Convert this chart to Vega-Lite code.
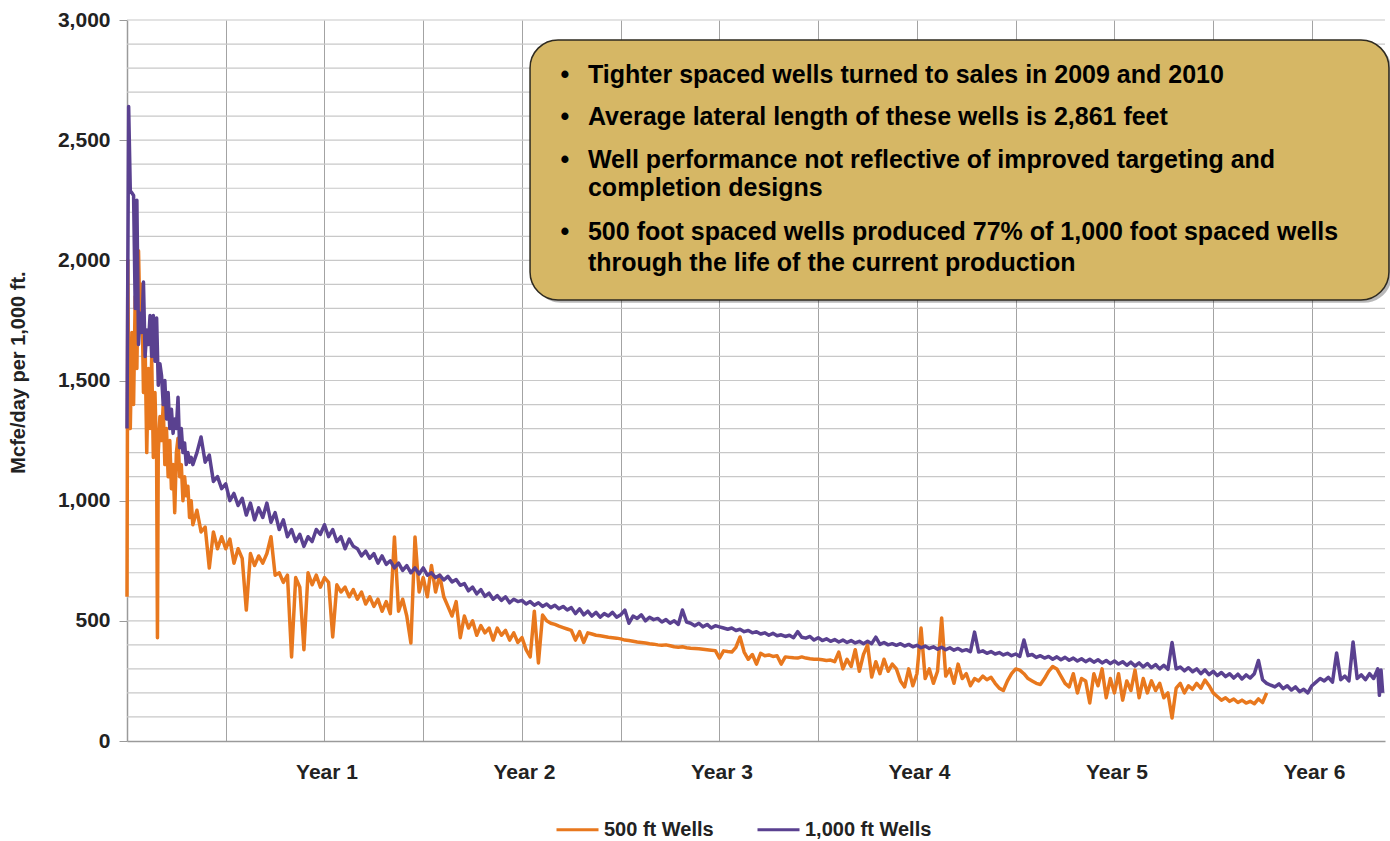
{
  "$schema": "https://vega.github.io/schema/vega-lite/v6.json",
  "width": 1258,
  "height": 721,
  "autosize": "none",
  "padding": {"left": 127, "top": 20, "right": 5, "bottom": 100},
  "background": "white",
  "config": {
    "font": "Liberation Sans",
    "view": {"stroke": null}
  },
  "datasets": {
    "hgrid": [{"g":100},{"g":200},{"g":300},{"g":400},{"g":500},{"g":600},{"g":700},{"g":800},{"g":900},{"g":1000},{"g":1100},{"g":1200},{"g":1300},{"g":1400},{"g":1500},{"g":1600},{"g":1700},{"g":1800},{"g":1900},{"g":2000},{"g":2100},{"g":2200},{"g":2300},{"g":2400},{"g":2500},{"g":2600},{"g":2700},{"g":2800},{"g":2900},{"g":3000}],
    "w500": [
      {"m":0.0,"v":600},{"m":0.05,"v":2000},{"m":0.1,"v":1500},{"m":0.2,"v":1300},{"m":0.3,"v":1700},{"m":0.4,"v":1400},{"m":0.5,"v":1850},{"m":0.6,"v":1550},{"m":0.7,"v":2040},{"m":0.8,"v":1700},{"m":0.9,"v":1900},{"m":1.0,"v":1450},{"m":1.1,"v":1650},{"m":1.2,"v":1200},{"m":1.3,"v":1550},{"m":1.4,"v":1300},{"m":1.5,"v":1600},{"m":1.6,"v":1180},{"m":1.7,"v":1450},{"m":1.8,"v":1170},{"m":1.85,"v":430},{"m":1.9,"v":1200},{"m":2.0,"v":1350},{"m":2.1,"v":1250},{"m":2.2,"v":1400},{"m":2.3,"v":1150},{"m":2.4,"v":1300},{"m":2.5,"v":1100},{"m":2.6,"v":1250},{"m":2.7,"v":1050},{"m":2.8,"v":1150},{"m":2.9,"v":950},{"m":3.0,"v":1200},{"m":3.1,"v":1260},{"m":3.2,"v":1100},{"m":3.3,"v":1150},{"m":3.4,"v":1000},{"m":3.5,"v":1100},{"m":3.6,"v":1020},{"m":3.7,"v":1060},{"m":3.8,"v":930},{"m":3.9,"v":1000},{"m":4.0,"v":900},
      {"m":4.25,"v":960},{"m":4.5,"v":870},{"m":4.75,"v":890},{"m":5.0,"v":720},{"m":5.25,"v":870},{"m":5.5,"v":800},{"m":5.75,"v":850},{"m":6.0,"v":800},{"m":6.25,"v":840},{"m":6.5,"v":740},{"m":6.75,"v":800},{"m":7.0,"v":760},{"m":7.25,"v":545},{"m":7.5,"v":780},{"m":7.75,"v":730},{"m":8.0,"v":770},{"m":8.25,"v":740},{"m":8.5,"v":780},{"m":8.75,"v":850},{"m":9.0,"v":690},{"m":9.25,"v":700},{"m":9.5,"v":660},{"m":9.75,"v":690},{"m":10.0,"v":350},{"m":10.25,"v":680},{"m":10.5,"v":640},{"m":10.75,"v":380},{"m":11.0,"v":700},{"m":11.25,"v":650},{"m":11.5,"v":690},{"m":11.75,"v":640},{"m":12.0,"v":680},{"m":12.25,"v":660},{"m":12.5,"v":433},{"m":12.75,"v":650},{"m":13.0,"v":620},{"m":13.25,"v":640},{"m":13.5,"v":600},{"m":13.75,"v":630},{"m":14.0,"v":590},{"m":14.25,"v":620},{"m":14.5,"v":570},{"m":14.75,"v":600},{"m":15.0,"v":560},{"m":15.25,"v":590},{"m":15.5,"v":540},{"m":15.75,"v":580},{"m":16.0,"v":530},{"m":16.25,"v":849},{"m":16.5,"v":540},{"m":16.75,"v":590},{"m":17.0,"v":520},{"m":17.25,"v":408},{"m":17.5,"v":849},{"m":17.75,"v":620},{"m":18.0,"v":680},{"m":18.25,"v":600},{"m":18.5,"v":730},{"m":18.75,"v":620},{"m":19.0,"v":690},{"m":19.25,"v":600},{"m":19.5,"v":560},{"m":19.75,"v":520},{"m":20.0,"v":580},{"m":20.25,"v":430},{"m":20.5,"v":520},{"m":20.75,"v":470},{"m":21.0,"v":500},{"m":21.25,"v":440},{"m":21.5,"v":480},{"m":21.75,"v":450},{"m":22.0,"v":470},{"m":22.25,"v":420},{"m":22.5,"v":470},{"m":22.75,"v":440},{"m":23.0,"v":460},{"m":23.25,"v":420},{"m":23.5,"v":450},{"m":23.75,"v":410},{"m":24.0,"v":430},{"m":24.25,"v":380},{"m":24.5,"v":350},{"m":24.75,"v":540},{"m":25.0,"v":325},{"m":25.25,"v":524},{"m":25.5,"v":500},{"m":25.75,"v":490},{"m":26.0,"v":485},{"m":26.25,"v":478},{"m":26.5,"v":472},{"m":26.75,"v":466},{"m":27.0,"v":460},{"m":27.25,"v":420},{"m":27.5,"v":455},{"m":27.75,"v":410},{"m":28.0,"v":450},{"m":28.25,"v":445},{"m":28.5,"v":440},{"m":28.75,"v":438},{"m":29.0,"v":435},{"m":29.25,"v":432},{"m":29.5,"v":430},{"m":29.75,"v":428},{"m":30.0,"v":425},{"m":30.25,"v":420},{"m":30.5,"v":418},{"m":30.75,"v":415},{"m":31.0,"v":412},{"m":31.25,"v":410},{"m":31.5,"v":408},{"m":31.75,"v":405},{"m":32.0,"v":403},{"m":32.25,"v":400},{"m":32.5,"v":398},{"m":32.75,"v":400},{"m":33.0,"v":396},{"m":33.25,"v":392},{"m":33.5,"v":390},{"m":33.75,"v":392},{"m":34.0,"v":388},{"m":34.25,"v":386},{"m":34.5,"v":385},{"m":34.75,"v":384},{"m":35.0,"v":382},{"m":35.25,"v":380},{"m":35.5,"v":378},{"m":35.75,"v":376},{"m":36.0,"v":345},{"m":36.25,"v":375},{"m":36.5,"v":372},{"m":36.75,"v":370},{"m":37.0,"v":390},{"m":37.25,"v":433},{"m":37.5,"v":370},{"m":37.75,"v":340},{"m":38.0,"v":360},{"m":38.25,"v":320},{"m":38.5,"v":365},{"m":38.75,"v":355},{"m":39.0,"v":358},{"m":39.25,"v":352},{"m":39.5,"v":355},{"m":39.75,"v":320},{"m":40.0,"v":350},{"m":40.25,"v":348},{"m":40.5,"v":346},{"m":40.75,"v":345},{"m":41.0,"v":350},{"m":41.25,"v":345},{"m":41.5,"v":342},{"m":41.75,"v":340},{"m":42.0,"v":340},{"m":42.25,"v":338},{"m":42.5,"v":335},{"m":42.75,"v":337},{"m":43.0,"v":330},{"m":43.25,"v":370},{"m":43.5,"v":300},{"m":43.75,"v":340},{"m":44.0,"v":310},{"m":44.25,"v":380},{"m":44.5,"v":290},{"m":44.75,"v":360},{"m":45.0,"v":400},{"m":45.25,"v":266},{"m":45.5,"v":330},{"m":45.75,"v":280},{"m":46.0,"v":340},{"m":46.25,"v":290},{"m":46.5,"v":320},{"m":46.75,"v":300},{"m":47.0,"v":250},{"m":47.25,"v":225},{"m":47.5,"v":300},{"m":47.75,"v":230},{"m":48.0,"v":280},{"m":48.25,"v":470},{"m":48.5,"v":260},{"m":48.75,"v":300},{"m":49.0,"v":240},{"m":49.25,"v":290},{"m":49.5,"v":512},{"m":49.75,"v":270},{"m":50.0,"v":300},{"m":50.25,"v":240},{"m":50.5,"v":320},{"m":50.75,"v":260},{"m":51.0,"v":280},{"m":51.25,"v":230},{"m":51.5,"v":260},{"m":51.75,"v":250},{"m":52.0,"v":270},{"m":52.25,"v":255},{"m":52.5,"v":265},{"m":52.75,"v":240},{"m":53.0,"v":220},{"m":53.25,"v":210},{"m":53.5,"v":250},{"m":53.75,"v":280},{"m":54.0,"v":300},{"m":54.25,"v":295},{"m":54.5,"v":280},{"m":54.75,"v":260},{"m":55.0,"v":250},{"m":55.25,"v":240},{"m":55.5,"v":235},{"m":55.75,"v":260},{"m":56.0,"v":290},{"m":56.25,"v":310},{"m":56.5,"v":300},{"m":56.75,"v":270},{"m":57.0,"v":240},{"m":57.25,"v":225},{"m":57.5,"v":280},{"m":57.75,"v":200},{"m":58.0,"v":260},{"m":58.25,"v":250},{"m":58.5,"v":158},{"m":58.75,"v":280},{"m":59.0,"v":230},{"m":59.25,"v":300},{"m":59.5,"v":180},{"m":59.75,"v":260},{"m":60.0,"v":200},{"m":60.25,"v":280},{"m":60.5,"v":170},{"m":60.75,"v":250},{"m":61.0,"v":210},{"m":61.25,"v":295},{"m":61.5,"v":180},{"m":61.75,"v":260},{"m":62.0,"v":200},{"m":62.25,"v":250},{"m":62.5,"v":210},{"m":62.75,"v":240},{"m":63.0,"v":180},{"m":63.25,"v":200},{"m":63.5,"v":96},{"m":63.75,"v":220},{"m":64.0,"v":240},{"m":64.25,"v":200},{"m":64.5,"v":230},{"m":64.75,"v":215},{"m":65.0,"v":240},{"m":65.25,"v":220},{"m":65.5,"v":254},{"m":65.75,"v":230},{"m":66.0,"v":200},{"m":66.25,"v":185},{"m":66.5,"v":170},{"m":66.75,"v":180},{"m":67.0,"v":165},{"m":67.25,"v":175},{"m":67.5,"v":160},{"m":67.75,"v":170},{"m":68.0,"v":158},{"m":68.25,"v":165},{"m":68.5,"v":155},{"m":68.75,"v":175},{"m":69.0,"v":160},{"m":69.25,"v":200}
    ],
    "w1000": [
      {"m":0.0,"v":1300},{"m":0.1,"v":2640},{"m":0.2,"v":2290},{"m":0.3,"v":2280},{"m":0.4,"v":2270},{"m":0.5,"v":1800},{"m":0.6,"v":2250},{"m":0.7,"v":1650},{"m":0.8,"v":1780},{"m":0.9,"v":1700},{"m":1.0,"v":1910},{"m":1.1,"v":1600},{"m":1.2,"v":1710},{"m":1.3,"v":1650},{"m":1.4,"v":1770},{"m":1.5,"v":1600},{"m":1.6,"v":1770},{"m":1.7,"v":1580},{"m":1.8,"v":1760},{"m":1.9,"v":1480},{"m":2.0,"v":1570},{"m":2.1,"v":1520},{"m":2.2,"v":1400},{"m":2.3,"v":1500},{"m":2.4,"v":1340},{"m":2.5,"v":1450},{"m":2.6,"v":1300},{"m":2.7,"v":1380},{"m":2.8,"v":1280},{"m":2.9,"v":1340},{"m":3.0,"v":1300},{"m":3.1,"v":1430},{"m":3.2,"v":1220},{"m":3.3,"v":1300},{"m":3.4,"v":1200},{"m":3.5,"v":1240},{"m":3.6,"v":1150},{"m":3.7,"v":1200},{"m":3.8,"v":1160},{"m":3.9,"v":1180},{"m":4.0,"v":1150},
      {"m":4.25,"v":1200},{"m":4.5,"v":1265},{"m":4.75,"v":1160},{"m":5.0,"v":1190},{"m":5.25,"v":1080},{"m":5.5,"v":1100},{"m":5.75,"v":1050},{"m":6.0,"v":1070},{"m":6.25,"v":1000},{"m":6.5,"v":1030},{"m":6.75,"v":980},{"m":7.0,"v":1010},{"m":7.25,"v":940},{"m":7.5,"v":990},{"m":7.75,"v":920},{"m":8.0,"v":970},{"m":8.25,"v":930},{"m":8.5,"v":990},{"m":8.75,"v":910},{"m":9.0,"v":950},{"m":9.25,"v":880},{"m":9.5,"v":920},{"m":9.75,"v":850},{"m":10.0,"v":880},{"m":10.25,"v":830},{"m":10.5,"v":860},{"m":10.75,"v":810},{"m":11.0,"v":850},{"m":11.25,"v":830},{"m":11.5,"v":880},{"m":11.75,"v":860},{"m":12.0,"v":900},{"m":12.25,"v":850},{"m":12.5,"v":880},{"m":12.75,"v":830},{"m":13.0,"v":850},{"m":13.25,"v":800},{"m":13.5,"v":840},{"m":13.75,"v":810},{"m":14.0,"v":800},{"m":14.25,"v":770},{"m":14.5,"v":790},{"m":14.75,"v":760},{"m":15.0,"v":780},{"m":15.25,"v":740},{"m":15.5,"v":770},{"m":15.75,"v":735},{"m":16.0,"v":750},{"m":16.25,"v":720},{"m":16.5,"v":740},{"m":16.75,"v":710},{"m":17.0,"v":730},{"m":17.25,"v":700},{"m":17.5,"v":720},{"m":17.75,"v":695},{"m":18.0,"v":720},{"m":18.25,"v":690},{"m":18.5,"v":700},{"m":18.75,"v":680},{"m":19.0,"v":690},{"m":19.25,"v":670},{"m":19.5,"v":685},{"m":19.75,"v":662},{"m":20.0,"v":672},{"m":20.25,"v":648},{"m":20.5,"v":655},{"m":20.75,"v":625},{"m":21.0,"v":640},{"m":21.25,"v":612},{"m":21.5,"v":630},{"m":21.75,"v":602},{"m":22.0,"v":615},{"m":22.25,"v":590},{"m":22.5,"v":605},{"m":22.75,"v":585},{"m":23.0,"v":600},{"m":23.25,"v":575},{"m":23.5,"v":590},{"m":23.75,"v":580},{"m":24.0,"v":585},{"m":24.25,"v":570},{"m":24.5,"v":580},{"m":24.75,"v":565},{"m":25.0,"v":575},{"m":25.25,"v":560},{"m":25.5,"v":570},{"m":25.75,"v":555},{"m":26.0,"v":565},{"m":26.25,"v":550},{"m":26.5,"v":560},{"m":26.75,"v":545},{"m":27.0,"v":555},{"m":27.25,"v":530},{"m":27.5,"v":550},{"m":27.75,"v":525},{"m":28.0,"v":540},{"m":28.25,"v":520},{"m":28.5,"v":535},{"m":28.75,"v":515},{"m":29.0,"v":530},{"m":29.25,"v":520},{"m":29.5,"v":535},{"m":29.75,"v":515},{"m":30.0,"v":525},{"m":30.25,"v":545},{"m":30.5,"v":490},{"m":30.75,"v":520},{"m":31.0,"v":510},{"m":31.25,"v":525},{"m":31.5,"v":500},{"m":31.75,"v":515},{"m":32.0,"v":505},{"m":32.25,"v":510},{"m":32.5,"v":495},{"m":32.75,"v":505},{"m":33.0,"v":490},{"m":33.25,"v":500},{"m":33.5,"v":485},{"m":33.75,"v":545},{"m":34.0,"v":495},{"m":34.25,"v":490},{"m":34.5,"v":480},{"m":34.75,"v":490},{"m":35.0,"v":475},{"m":35.25,"v":485},{"m":35.5,"v":470},{"m":35.75,"v":480},{"m":36.0,"v":475},{"m":36.25,"v":470},{"m":36.5,"v":465},{"m":36.75,"v":470},{"m":37.0,"v":460},{"m":37.25,"v":465},{"m":37.5,"v":455},{"m":37.75,"v":460},{"m":38.0,"v":450},{"m":38.25,"v":455},{"m":38.5,"v":445},{"m":38.75,"v":450},{"m":39.0,"v":440},{"m":39.25,"v":448},{"m":39.5,"v":438},{"m":39.75,"v":442},{"m":40.0,"v":435},{"m":40.25,"v":440},{"m":40.5,"v":430},{"m":40.75,"v":455},{"m":41.0,"v":432},{"m":41.25,"v":428},{"m":41.5,"v":435},{"m":41.75,"v":420},{"m":42.0,"v":430},{"m":42.25,"v":418},{"m":42.5,"v":425},{"m":42.75,"v":415},{"m":43.0,"v":422},{"m":43.25,"v":412},{"m":43.5,"v":420},{"m":43.75,"v":410},{"m":44.0,"v":418},{"m":44.25,"v":408},{"m":44.5,"v":415},{"m":44.75,"v":405},{"m":45.0,"v":415},{"m":45.25,"v":405},{"m":45.5,"v":432},{"m":45.75,"v":402},{"m":46.0,"v":410},{"m":46.25,"v":400},{"m":46.5,"v":405},{"m":46.75,"v":398},{"m":47.0,"v":405},{"m":47.25,"v":395},{"m":47.5,"v":402},{"m":47.75,"v":392},{"m":48.0,"v":398},{"m":48.25,"v":388},{"m":48.5,"v":395},{"m":48.75,"v":385},{"m":49.0,"v":392},{"m":49.25,"v":382},{"m":49.5,"v":390},{"m":49.75,"v":380},{"m":50.0,"v":388},{"m":50.25,"v":378},{"m":50.5,"v":385},{"m":50.75,"v":375},{"m":51.0,"v":380},{"m":51.25,"v":372},{"m":51.5,"v":453},{"m":51.75,"v":370},{"m":52.0,"v":375},{"m":52.25,"v":365},{"m":52.5,"v":372},{"m":52.75,"v":362},{"m":53.0,"v":368},{"m":53.25,"v":358},{"m":53.5,"v":365},{"m":53.75,"v":355},{"m":54.0,"v":362},{"m":54.25,"v":352},{"m":54.5,"v":420},{"m":54.75,"v":355},{"m":55.0,"v":360},{"m":55.25,"v":348},{"m":55.5,"v":355},{"m":55.75,"v":345},{"m":56.0,"v":352},{"m":56.25,"v":340},{"m":56.5,"v":350},{"m":56.75,"v":338},{"m":57.0,"v":348},{"m":57.25,"v":336},{"m":57.5,"v":345},{"m":57.75,"v":333},{"m":58.0,"v":342},{"m":58.25,"v":330},{"m":58.5,"v":340},{"m":58.75,"v":328},{"m":59.0,"v":338},{"m":59.25,"v":325},{"m":59.5,"v":335},{"m":59.75,"v":322},{"m":60.0,"v":333},{"m":60.25,"v":320},{"m":60.5,"v":330},{"m":60.75,"v":315},{"m":61.0,"v":328},{"m":61.25,"v":312},{"m":61.5,"v":325},{"m":61.75,"v":308},{"m":62.0,"v":322},{"m":62.25,"v":305},{"m":62.5,"v":318},{"m":62.75,"v":300},{"m":63.0,"v":315},{"m":63.25,"v":298},{"m":63.5,"v":410},{"m":63.75,"v":300},{"m":64.0,"v":308},{"m":64.25,"v":292},{"m":64.5,"v":305},{"m":64.75,"v":288},{"m":65.0,"v":300},{"m":65.25,"v":280},{"m":65.5,"v":296},{"m":65.75,"v":276},{"m":66.0,"v":290},{"m":66.25,"v":272},{"m":66.5,"v":285},{"m":66.75,"v":268},{"m":67.0,"v":280},{"m":67.25,"v":262},{"m":67.5,"v":278},{"m":67.75,"v":258},{"m":68.0,"v":275},{"m":68.25,"v":262},{"m":68.5,"v":280},{"m":68.75,"v":335},{"m":69.0,"v":255},{"m":69.25,"v":240},{"m":69.5,"v":232},{"m":69.75,"v":225},{"m":70.0,"v":238},{"m":70.25,"v":218},{"m":70.5,"v":230},{"m":70.75,"v":212},{"m":71.0,"v":225},{"m":71.25,"v":205},{"m":71.5,"v":215},{"m":71.75,"v":200},{"m":72.0,"v":230},{"m":72.25,"v":245},{"m":72.5,"v":260},{"m":72.75,"v":250},{"m":73.0,"v":265},{"m":73.25,"v":245},{"m":73.5,"v":366},{"m":73.75,"v":255},{"m":74.0,"v":270},{"m":74.25,"v":250},{"m":74.5,"v":412},{"m":74.75,"v":260},{"m":75.0,"v":275},{"m":75.25,"v":255},{"m":75.5,"v":280},{"m":75.75,"v":260},{"m":76.0,"v":300},{"m":76.1,"v":190},{"m":76.2,"v":295},{"m":76.3,"v":200}
    ],
    "box": [{"x1": 24.49, "x2": 76.68, "y1": 2917, "y2": 1835}],
    "shadow": [{"x1": 24.67, "x2": 76.86, "y1": 2905, "y2": 1823}],
    "bullets": [
      {"m": 26.61, "v": 2771},
      {"m": 26.61, "v": 2596},
      {"m": 26.61, "v": 2418},
      {"m": 26.61, "v": 2118}
    ],
    "notes": [
      {"m": 28.01, "v": 2771, "t": "Tighter spaced wells turned to sales in 2009 and 2010"},
      {"m": 28.01, "v": 2596, "t": "Average lateral length of these wells is 2,861 feet"},
      {"m": 28.01, "v": 2418, "t": "Well performance not reflective of improved targeting and"},
      {"m": 28.01, "v": 2301, "t": "completion designs"},
      {"m": 28.01, "v": 2118, "t": "500 foot spaced wells produced 77% of 1,000 foot spaced wells"},
      {"m": 28.01, "v": 1989, "t": "through the life of the current production"}
    ]
  },
  "layer": [
    {
      "data": {"name": "hgrid"},
      "mark": {"type": "rule", "color": "#c8c8c8", "strokeWidth": 1.2},
      "encoding": {
        "y": {"field": "g", "type": "quantitative"}
      }
    },
    {
      "data": {"name": "w500"},
      "mark": {"type": "line", "strokeWidth": 3.5, "interpolate": "linear", "strokeJoin": "round"},
      "encoding": {
        "x": {
          "field": "m", "type": "quantitative",
          "scale": {"domain": [0, 76.44], "nice": false, "zero": false},
          "axis": {
            "title": null,
            "values": [6, 12, 18, 24, 30, 36, 42, 48, 54, 60, 66, 72],
            "labelExpr": "datum.value % 12 === 0 ? 'Year ' + (datum.value / 12) : ''",
            "labelOverlap": false,
            "grid": true, "gridColor": "#a3a3a3", "gridWidth": 1,
            "ticks": false, "labelPadding": 20, "labelOffset": 2,
            "labelFontSize": 21, "labelFontWeight": "bold", "labelColor": "#222222",
            "domainColor": "#9a9a9a", "domainWidth": 1.5
          }
        },
        "y": {
          "field": "v", "type": "quantitative",
          "scale": {"domain": [0, 3000], "nice": false},
          "axis": {
            "title": "Mcfe/day per 1,000 ft.",
            "titleFontSize": 20, "titleFontWeight": "bold", "titleColor": "#222222",
            "titleX": -109, "titleY": 352, "titleAngle": -90, "titleAlign": "center", "titleBaseline": "middle",
            "values": [0, 500, 1000, 1500, 2000, 2500, 3000],
            "format": ",.0f",
            "labelOverlap": false,
            "grid": false,
            "tickSize": 8, "tickColor": "#9a9a9a",
            "labelPadding": 9, "labelFontSize": 21, "labelFontWeight": "bold", "labelColor": "#222222",
            "domainColor": "#9a9a9a", "domainWidth": 1.5
          }
        },
        "color": {
          "datum": "500 ft Wells",
          "type": "nominal",
          "scale": {"domain": ["500 ft Wells", "1,000 ft Wells"], "range": ["#E8781E", "#5A4190"]},
          "legend": {
            "title": null, "orient": "none", "legendX": 428, "legendY": 787,
            "direction": "horizontal", "symbolType": "stroke", "symbolSize": 1764,
            "symbolStrokeWidth": 3, "labelFontSize": 20, "labelFontWeight": "bold",
            "labelColor": "#222222", "labelOffset": 4, "columnPadding": 37, "padding": 0
          }
        }
      }
    },
    {
      "data": {"name": "w1000"},
      "mark": {"type": "line", "strokeWidth": 3.5, "interpolate": "linear", "strokeJoin": "round"},
      "encoding": {
        "x": {"field": "m", "type": "quantitative"},
        "y": {"field": "v", "type": "quantitative"},
        "color": {"datum": "1,000 ft Wells", "type": "nominal"}
      }
    },
    {
      "data": {"name": "shadow"},
      "mark": {"type": "rect", "cornerRadius": 28, "fill": "#000000", "opacity": 0.28, "clip": false},
      "encoding": {
        "x": {"field": "x1", "type": "quantitative"},
        "x2": {"field": "x2"},
        "y": {"field": "y1", "type": "quantitative"},
        "y2": {"field": "y2"}
      }
    },
    {
      "data": {"name": "box"},
      "mark": {"type": "rect", "cornerRadius": 28, "fill": "#D6B765", "stroke": "#2e2a20", "strokeWidth": 1.5, "clip": false},
      "encoding": {
        "x": {"field": "x1", "type": "quantitative"},
        "x2": {"field": "x2"},
        "y": {"field": "y1", "type": "quantitative"},
        "y2": {"field": "y2"}
      }
    },
    {
      "data": {"name": "bullets"},
      "mark": {"type": "text", "text": "•", "fontSize": 25, "fontWeight": "bold", "color": "#000000", "align": "center", "baseline": "middle", "clip": false},
      "encoding": {
        "x": {"field": "m", "type": "quantitative"},
        "y": {"field": "v", "type": "quantitative"}
      }
    },
    {
      "data": {"name": "notes"},
      "mark": {"type": "text", "fontSize": 25, "fontWeight": "bold", "color": "#000000", "align": "left", "baseline": "middle", "clip": false},
      "encoding": {
        "x": {"field": "m", "type": "quantitative"},
        "y": {"field": "v", "type": "quantitative"},
        "text": {"field": "t"}
      }
    }
  ]
}
